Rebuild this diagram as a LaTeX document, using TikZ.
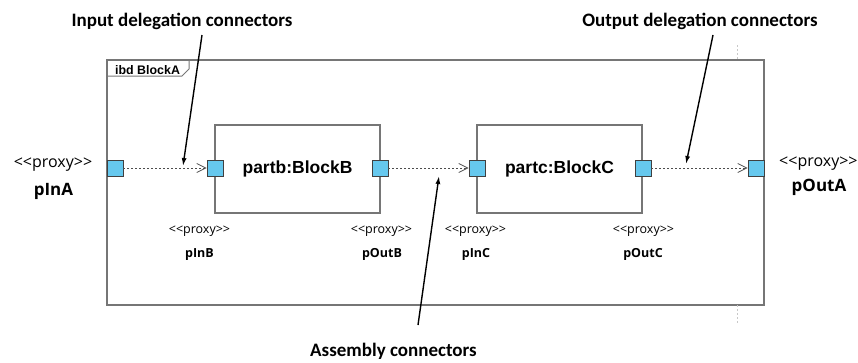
\documentclass[tikz,border=0pt]{standalone}
\usepackage{fontspec}
\setmainfont{Liberation Sans}
\newfontfamily\notefont{Carlito}
\newfontfamily\proxyfont{Open Sans}
\usetikzlibrary{arrows.meta}
\definecolor{portblue}{RGB}{102,200,238}
\definecolor{edgegray}{RGB}{118,118,118}
\definecolor{guidegray}{RGB}{200,200,200}

\begin{document}
\begin{tikzpicture}[x=1pt,y=-1pt,
  framebox/.style={draw=edgegray, line width=1.2pt, rectangle, inner sep=0pt},
  partbox/.style={draw=edgegray, line width=1.2pt, rectangle, inner sep=0pt,
    minimum width=165pt, minimum height=88pt,
    font=\bfseries\fontsize{17.5}{20}\selectfont},
  port/.style={draw=black!75, fill=portblue, rectangle, inner sep=0pt,
    minimum size=16pt, line width=0.8pt},
  flow/.style={line width=0.9pt, dash pattern=on 2pt off 2pt, draw=black!70,
    -{Straight Barb[length=9pt,width=9pt,line width=0.8pt]}},
  note/.style={font=\notefont\bfseries\fontsize{19}{22}\selectfont, anchor=base, inner sep=0pt},
  pointer/.style={line width=1.4pt, -{Latex[length=8pt,width=5pt]}},
  stereo/.style={font=\proxyfont\fontsize{12.5}{14}\selectfont, anchor=base, inner sep=0pt},
  stereobig/.style={font=\proxyfont\fontsize{16}{18}\selectfont, anchor=base, inner sep=0pt},
  pname/.style={font=\proxyfont\bfseries\fontsize{12.5}{14}\selectfont, anchor=base, inner sep=0pt},
  pnamebig/.style={font=\proxyfont\bfseries\fontsize{17}{19}\selectfont, anchor=base, inner sep=0pt},
  guide/.style={draw=guidegray, line width=0.7pt, dash pattern=on 2pt off 2pt}
]
\useasboundingbox (0,0) rectangle (858,362);

% enclosing ibd frame with its name tab
\node[framebox, minimum width=657pt, minimum height=245pt] (frame) at (435.5,182.5) {};
\draw[draw=edgegray, line width=1pt] (frame.north west |- 0,76) -- (182,76) -- (189,69) -- (189,60);
\node[font=\bfseries\fontsize{12.4}{14}\selectfont, anchor=base west, inner sep=0pt] (tab) at (115,74) {ibd BlockA};

% faint guide marks above and below the frame
\coordinate (gtA) at (737,45);
\coordinate (gtB) at (737,60);
\coordinate (gbA) at (737,305);
\coordinate (gbB) at (737,323);
\draw[guide] (gtA) -- (gtB);
\draw[guide] (gbA) -- (gbB);

% parts
\node[partbox] (partb) at (297.5,169) {partb:BlockB};
\node[partbox] (partc) at (559.5,169) {partc:BlockC};

% proxy ports
\node[port] (pInA)  at (115,168) {};
\node[port] (pInB)  at (215,168) {};
\node[port] (pOutB) at (380,168) {};
\node[port] (pInC)  at (477,168) {};
\node[port] (pOutC) at (643,168) {};
\node[port] (pOutA) at (756,168) {};

% connectors between ports
\draw[flow] (pInA.east) -- (pInB.west);
\draw[flow] (pOutB.east) -- (pInC.west);
\draw[flow] (pOutC.east) -- (pOutA.west);

% port labels
\node[stereobig] (sA) at (53,167) {<<proxy>>};
\node[pnamebig] (nA) at (53.5,195) {pInA};
\node[stereobig, anchor=base west] (sOA) at (779,166) {<<proxy>>};
\node[pnamebig] (nOA) at (819,191) {pOutA};

\node[stereo] (sB)  at (199.5,233) {<<proxy>>};
\node[pname]  (nB)  at (199.5,257) {pInB};
\node[stereo] (sOB) at (381.5,233) {<<proxy>>};
\node[pname]  (nOB) at (382,257) {pOutB};
\node[stereo] (sC)  at (475.5,233) {<<proxy>>};
\node[pname]  (nC)  at (476,257) {pInC};
\node[stereo] (sOC) at (643.5,233) {<<proxy>>};
\node[pname]  (nOC) at (643,257) {pOutC};

% annotations
\node[note] (inNote)  at (182,26) {Input delegation connectors};
\node[note] (outNote) at (700,26) {Output delegation connectors};
\node[note] (asmNote) at (393.5,356) {Assembly connectors};

\coordinate (inFrom)  at (202,35);
\coordinate (inTo)    at (183,166);
\coordinate (outFrom) at (713,35);
\coordinate (outTo)   at (686,164);
\coordinate (asmFrom) at (418,325);
\coordinate (asmTo)   at (439,176);
\draw[pointer] (inFrom) -- (inTo);
\draw[pointer] (outFrom) -- (outTo);
\draw[pointer] (asmFrom) -- (asmTo);
\end{tikzpicture}
\end{document}
